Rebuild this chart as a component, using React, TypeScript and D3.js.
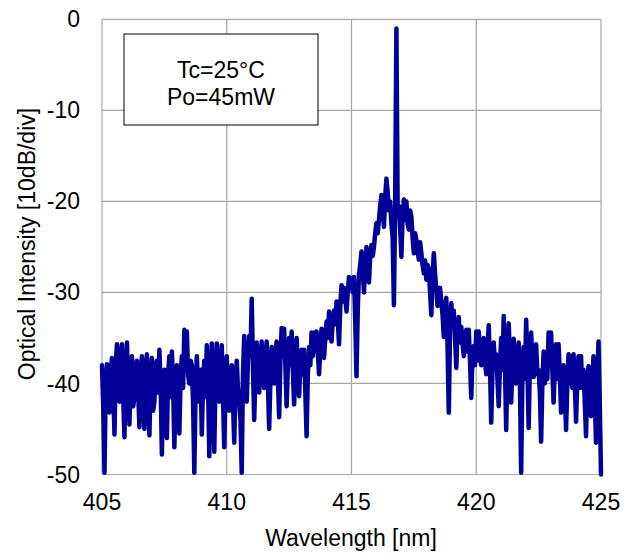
import React from "react";
import * as d3 from "d3";

const startWavelength = 405;
const stepWavelength = 0.05;
const intensity: number[] = [
  // 405.xx
  -38.0, -42.5, -49.8, -40.0, -37.9, -41.0, -43.2, -38.5, -37.2, -40.5,
  -45.6, -38.0, -35.7, -40.0, -42.0, -37.0, -35.7, -41.5, -45.9, -38.5,
  // 406.xx
  -35.5, -40.5, -44.5, -39.0, -37.0, -42.5, -41.5, -38.0, -37.5, -41.0,
  -44.8, -39.0, -37.0, -41.5, -45.0, -38.5, -36.8, -42.0, -45.7, -39.5,
  // 407.xx
  -37.2, -43.0, -42.0, -38.0, -37.5, -41.0, -36.3, -40.0, -47.8, -40.5,
  -38.5, -42.5, -46.0, -39.0, -37.0, -41.5, -36.5, -40.0, -47.0, -41.0,
  // 408.xx
  -38.0, -42.0, -45.5, -39.5, -37.0, -40.5, -34.1, -38.5, -34.3, -39.0,
  -40.0, -37.5, -38.0, -42.0, -49.8, -41.0, -37.0, -40.5, -42.0, -38.5,
  // 409.xx
  -45.6, -40.0, -37.5, -41.5, -35.8, -40.0, -48.0, -40.5, -35.6, -41.0,
  -47.5, -39.5, -35.6, -40.0, -42.0, -38.5, -35.8, -41.5, -47.0, -40.0,
  // 410.xx
  -37.0, -41.0, -43.0, -39.0, -38.0, -42.0, -46.5, -40.0, -37.5, -40.5,
  -42.0, -44.0, -49.8, -39.0, -34.8, -38.5, -42.0, -37.5, -34.8, -37.0,
  // 411.xx
  -30.7, -38.0, -44.0, -39.0, -35.5, -39.0, -41.0, -37.5, -35.4, -39.0,
  -40.5, -37.0, -35.4, -40.0, -45.0, -39.5, -36.0, -38.5, -40.0, -37.0,
  // 412.xx
  -35.4, -39.5, -43.7, -37.5, -33.9, -37.0, -34.0, -38.0, -42.5, -38.0,
  -35.0, -38.0, -34.3, -38.5, -42.3, -38.0, -35.0, -38.5, -41.4, -38.0,
  // 413.xx
  -36.3, -39.0, -36.3, -41.0, -45.8, -39.0, -36.0, -38.0, -34.4, -37.0,
  -34.4, -36.5, -34.3, -36.5, -39.0, -36.0, -34.0, -36.0, -37.2, -35.0,
  // 414.xx
  -33.2, -35.0, -32.1, -34.0, -35.4, -33.0, -32.0, -33.5, -31.0, -33.0,
  -35.7, -31.5, -29.2, -31.0, -29.5, -30.5, -32.1, -30.0, -28.3, -29.5,
  // 415.xx
  -28.5, -30.0, -28.3, -33.0, -39.2, -32.0, -28.0, -27.0, -25.5, -27.5,
  -30.0, -27.0, -25.0, -26.5, -28.9, -26.0, -24.8, -26.0, -25.0, -23.5,
  // 416.xx
  -22.4, -23.5, -22.0, -20.5, -19.3, -21.0, -22.8, -19.5, -17.5, -19.0,
  -21.0, -20.0, -22.5, -24.0, -31.4, -20.0, -1.0, -21.0, -20.5, -23.0,
  // 417.xx
  -26.1, -21.5, -19.8, -22.0, -20.0, -22.5, -23.1, -21.0, -21.7, -24.0,
  -25.7, -23.5, -24.2, -25.5, -26.4, -24.5, -25.7, -27.0, -27.9, -26.5,
  // 418.xx
  -28.6, -27.0, -27.5, -30.0, -32.5, -28.0, -25.7, -28.0, -29.7, -31.5,
  -30.6, -29.5, -31.0, -32.5, -34.9, -31.5, -30.6, -36.0, -43.2, -34.0,
  // 419.xx
  -31.2, -33.5, -32.0, -35.0, -38.3, -34.0, -32.7, -35.5, -33.8, -35.5,
  -37.0, -35.0, -34.1, -36.5, -34.1, -37.5, -41.6, -37.0, -35.9, -38.0,
  // 420.xx
  -34.3, -37.5, -34.3, -36.5, -38.0, -36.0, -35.0, -37.5, -39.0, -36.0,
  -33.6, -38.0, -44.3, -38.5, -35.5, -38.0, -36.8, -39.5, -42.5, -38.0,
  // 421.xx
  -35.0, -38.5, -32.6, -38.0, -45.1, -38.0, -33.4, -37.0, -42.1, -38.0,
  -35.1, -38.5, -40.0, -37.5, -35.5, -40.0, -49.8, -39.0, -36.0, -39.5,
  // 422.xx
  -33.0, -38.0, -44.9, -38.0, -34.4, -37.5, -39.3, -37.0, -35.7, -39.0,
  -38.5, -41.0, -46.4, -40.0, -36.5, -40.0, -37.0, -39.5, -34.4, -38.0,
  // 423.xx
  -34.4, -38.5, -42.1, -38.0, -35.7, -39.5, -35.7, -39.0, -43.2, -39.0,
  -38.0, -41.0, -45.1, -40.0, -36.8, -40.0, -37.0, -40.5, -36.8, -40.0,
  // 424.xx
  -44.2, -39.5, -37.0, -40.5, -37.0, -40.5, -38.5, -42.0, -45.8, -40.0,
  -38.1, -41.0, -43.6, -40.0, -37.0, -41.5, -46.5, -40.0, -35.4, -42.0,
  // 425.00
  -50.0,
];

const xTicks = [405, 410, 415, 420, 425];
const yTicks = [0, -10, -20, -30, -40, -50];
const legendLines = ["Tc=25\u00B0C", "Po=45mW"];
const xTitle = "Wavelength [nm]";
const yTitle = "Optical Intensity [10dB/div]";

const W = 640;
const H = 555;
const FONT = "'Liberation Sans', Arial, sans-serif";
const FS = 23;

export default function App() {
  const x = d3.scaleLinear().domain([405, 425]).range([102, 601]);
  const y = d3.scaleLinear().domain([-50, 0]).range([474.5, 19.3]);

  const pts: [number, number][] = intensity.map((v, i) => [
    startWavelength + i * stepWavelength,
    v,
  ]);
  const line = d3
    .line<[number, number]>()
    .x((d) => x(d[0]))
    .y((d) => y(d[1]));

  const grid = "#a6a6a6";

  return (
    <svg
      width={W}
      height={H}
      style={{ position: "absolute", left: 0, top: 0, background: "#fff" }}
      fontFamily={FONT}
    >
      <rect x={0} y={0} width={W} height={H} fill="#fff" />
      {xTicks.map((t) => (
        <line
          key={"gx" + t}
          x1={x(t)}
          x2={x(t)}
          y1={y(0)}
          y2={y(-50)}
          stroke={grid}
          strokeWidth={1.2}
        />
      ))}
      {yTicks.map((t) => (
        <line
          key={"gy" + t}
          x1={x(405)}
          x2={x(425)}
          y1={y(t)}
          y2={y(t)}
          stroke={grid}
          strokeWidth={1.2}
        />
      ))}
      <path
        d={line(pts) || ""}
        fill="none"
        stroke="#000099"
        strokeWidth={4.5}
        strokeLinejoin="round"
        strokeLinecap="round"
      />
      <rect
        x={124}
        y={34}
        width={194}
        height={91}
        fill="#fff"
        stroke="#000"
        strokeWidth={1}
      />
      {legendLines.map((s, i) => (
        <text
          key={s}
          x={221}
          y={78 + i * 27}
          textAnchor="middle"
          fontSize={FS}
          fill="#000"
        >
          {s}
        </text>
      ))}
      {yTicks.map((t) => (
        <text
          key={"ty" + t}
          x={80}
          y={y(t)}
          dy="0.35em"
          textAnchor="end"
          fontSize={FS}
          fill="#000"
        >
          {t}
        </text>
      ))}
      {xTicks.map((t) => (
        <text
          key={"tx" + t}
          x={x(t)}
          y={510}
          textAnchor="middle"
          fontSize={FS}
          fill="#000"
        >
          {t}
        </text>
      ))}
      <text x={351} y={546} textAnchor="middle" fontSize={FS} fill="#000">
        {xTitle}
      </text>
      <text
        transform={`translate(35, 244) rotate(-90)`}
        textAnchor="middle"
        fontSize={FS}
        fill="#000"
      >
        {yTitle}
      </text>
    </svg>
  );
}
